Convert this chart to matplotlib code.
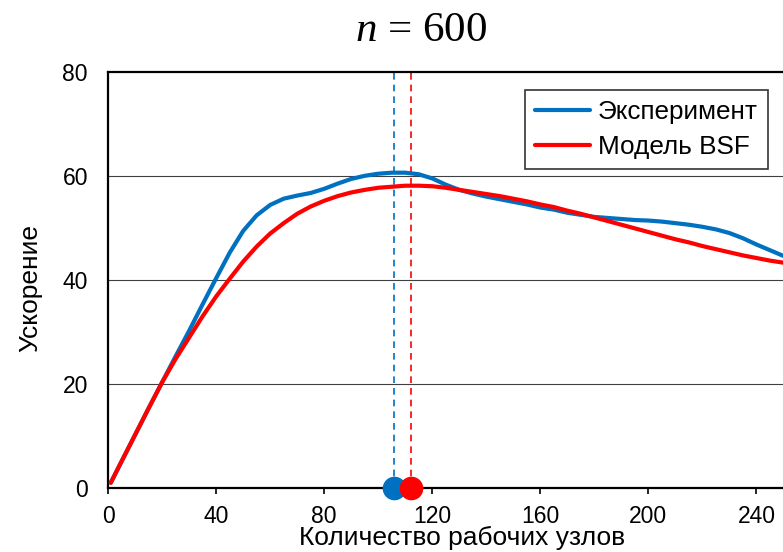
import matplotlib
matplotlib.use("Agg")
import matplotlib.pyplot as plt

plt.rcParams['font.family'] = ['Liberation Sans', 'DejaVu Sans']
plt.rcParams['mathtext.fontset'] = 'custom'
plt.rcParams['mathtext.it'] = 'Liberation Serif:italic'
plt.rcParams['mathtext.rm'] = 'Liberation Serif'

# number of worker nodes
nodes = [1, 5, 10, 15, 20, 25, 30, 35, 40, 45, 50, 55, 60, 65, 70, 75, 80, 85,
         90, 95, 100, 105, 110, 115, 120, 125, 130, 135, 140, 145, 150, 155,
         160, 165, 170, 175, 180, 185, 190, 195, 200, 205, 210, 215, 220, 225,
         230, 235, 240, 245, 250, 255, 260]
experiment = [1, 5.1, 10.2, 15.3, 20.3, 25.3, 30.2, 35.3, 40.3, 45.2, 49.4,
              52.4, 54.4, 55.6, 56.2, 56.7, 57.5, 58.5, 59.4, 60.0, 60.4, 60.6,
              60.6, 60.3, 59.5, 58.3, 57.3, 56.6, 56.0, 55.5, 55.0, 54.5, 53.9,
              53.5, 52.9, 52.5, 52.1, 51.9, 51.7, 51.5, 51.4, 51.2, 50.9, 50.6,
              50.2, 49.7, 49.0, 48.0, 46.8, 45.7, 44.6, 43.4, 42.2]
model = [1, 5.1, 10.2, 15.3, 20.3, 24.8, 28.9, 33.0, 36.8, 40.2, 43.5, 46.4,
         48.9, 50.9, 52.7, 54.1, 55.2, 56.1, 56.8, 57.3, 57.7, 57.9, 58.1,
         58.1, 58.0, 57.7, 57.3, 56.9, 56.5, 56.1, 55.6, 55.1, 54.5, 54.0,
         53.3, 52.7, 52.0, 51.3, 50.6, 49.9, 49.2, 48.5, 47.8, 47.2, 46.5,
         45.9, 45.3, 44.7, 44.2, 43.7, 43.3, 42.8, 42.3]
peak_exp = 106
peak_model = 112
x_ticks = [0, 40, 80, 120, 160, 200, 240]
y_ticks = [0, 20, 40, 60, 80]

blue = '#0070C0'
red = '#FF0000'

fig = plt.figure(figsize=(7.83, 5.52), dpi=100)
ax = fig.add_axes([0.138, 0.116, 0.904, 0.754])

for y in [20, 40, 60]:
    ax.axhline(y, color='#404040', lw=0.8, zorder=1)

ax.plot(nodes, experiment, color=blue, lw=3, solid_joinstyle='round',
        solid_capstyle='round', label='Эксперимент', zorder=3)
ax.plot(nodes, model, color=red, lw=3, solid_joinstyle='round',
        solid_capstyle='round', label='Модель BSF', zorder=3)

ax.plot([peak_exp, peak_exp], [0, 80.8], color=blue, lw=1.2, ls=(0, (4, 3)),
        clip_on=False, zorder=2)
ax.plot([peak_model, peak_model], [0, 80], color=red, lw=1.2, ls=(0, (4, 3)),
        zorder=2)
ax.plot([peak_exp], [0], 'o', color=blue, ms=16, clip_on=False, zorder=5)
ax.plot([peak_model], [0], 'o', color=red, ms=16, clip_on=False, zorder=6)

ax.set_xlim(0, 262)
ax.set_ylim(0, 80)
ax.set_xticks(x_ticks)
ax.set_yticks(y_ticks)
ax.tick_params(axis='both', labelsize=16.5)
ax.tick_params(axis='x', length=4, width=1.2, direction='out', pad=8)
ax.tick_params(axis='y', length=0, pad=14.5)

for s in ['left', 'top', 'bottom']:
    ax.spines[s].set_linewidth(1.6)
    ax.spines[s].set_color('black')
ax.spines['right'].set_visible(False)

ax.set_ylabel('Ускорение', fontsize=19)
ax.yaxis.set_label_coords(-0.093, 0.48)
ax.set_xlabel('Количество рабочих узлов', fontsize=19)
ax.xaxis.set_label_coords(0.5, -0.092)

leg = ax.legend(loc='upper right', bbox_to_anchor=(0.981, 0.837),
                bbox_transform=fig.transFigure, prop={'size': 18.8},
                frameon=True, fancybox=False, edgecolor='black',
                handlelength=2.1, handletextpad=0.3, borderpad=0.4,
                labelspacing=0.4, borderaxespad=0)
leg.get_frame().set_linewidth(1.2)

fig.text(0.538, 0.9257, '$n$ = 600', ha='center', va='baseline', fontsize=31,
         family='Liberation Serif')

fig.savefig('out.png', dpi=100)
